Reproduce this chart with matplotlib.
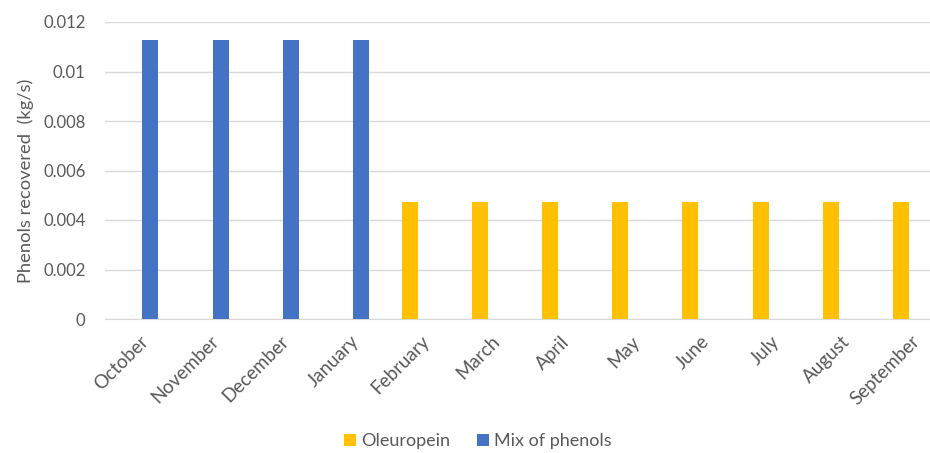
import matplotlib.pyplot as plt
import numpy as np

plt.rcParams['font.family'] = ['Lato', 'DejaVu Sans']

months = ['October', 'November', 'December', 'January', 'February', 'March',
          'April', 'May', 'June', 'July', 'August', 'September']
oleuropein = [0, 0, 0, 0, 0.00473, 0.00473, 0.00473, 0.00473, 0.00473, 0.00473, 0.00473, 0.00473]
mix_phenols = [0.01127, 0.01127, 0.01127, 0.01127, 0, 0, 0, 0, 0, 0, 0, 0]
yticks = [0, 0.002, 0.004, 0.006, 0.008, 0.01, 0.012]
ytick_labels = ['0', '0.002', '0.004', '0.006', '0.008', '0.01', '0.012']

txt = '#595959'
fig = plt.figure(figsize=(9.3, 4.53), dpi=100)
ax = fig.add_axes([105/930, 134/453, 825/930, 297/453])

x = np.arange(len(months))
off = 0.148
w = 0.228
ax.bar(x - off, oleuropein, w, color='#FFC000', label='Oleuropein', zorder=3)
ax.bar(x + off, mix_phenols, w, color='#4472C4', label='Mix of phenols', zorder=3)

ax.set_xlim(-0.5, 11.27)
ax.set_ylim(0, 0.012)
ax.set_yticks(yticks)
ax.set_yticklabels(ytick_labels)
ax.yaxis.grid(True, color='#D9D9D9', lw=1, zorder=0)
ax.set_xticks(x)
ax.set_xticklabels(months, rotation=45, ha='right', rotation_mode='anchor')
ax.tick_params(axis='both', length=0, colors=txt)
ax.tick_params(axis='y', pad=14, labelsize=12)
ax.tick_params(axis='x', pad=10, labelsize=13.5)
for s in ['top', 'right', 'left']:
    ax.spines[s].set_visible(False)
ax.spines['bottom'].set_color('#D9D9D9')

# anchor the label at its start so it sits where the original one does
ax.set_ylabel('Phenols recovered  (kg/s)', color=txt, fontsize=13.2, loc='bottom')
ax.yaxis.set_label_coords(-0.086, 0.121)

fig.legend(loc='center', bbox_to_anchor=(0.514, 0.026), ncol=2, frameon=False,
           fontsize=13, labelcolor=txt, handlelength=0.65, handleheight=0.65,
           handletextpad=0.3, columnspacing=1.5)

fig.savefig('out.png', dpi=100)
